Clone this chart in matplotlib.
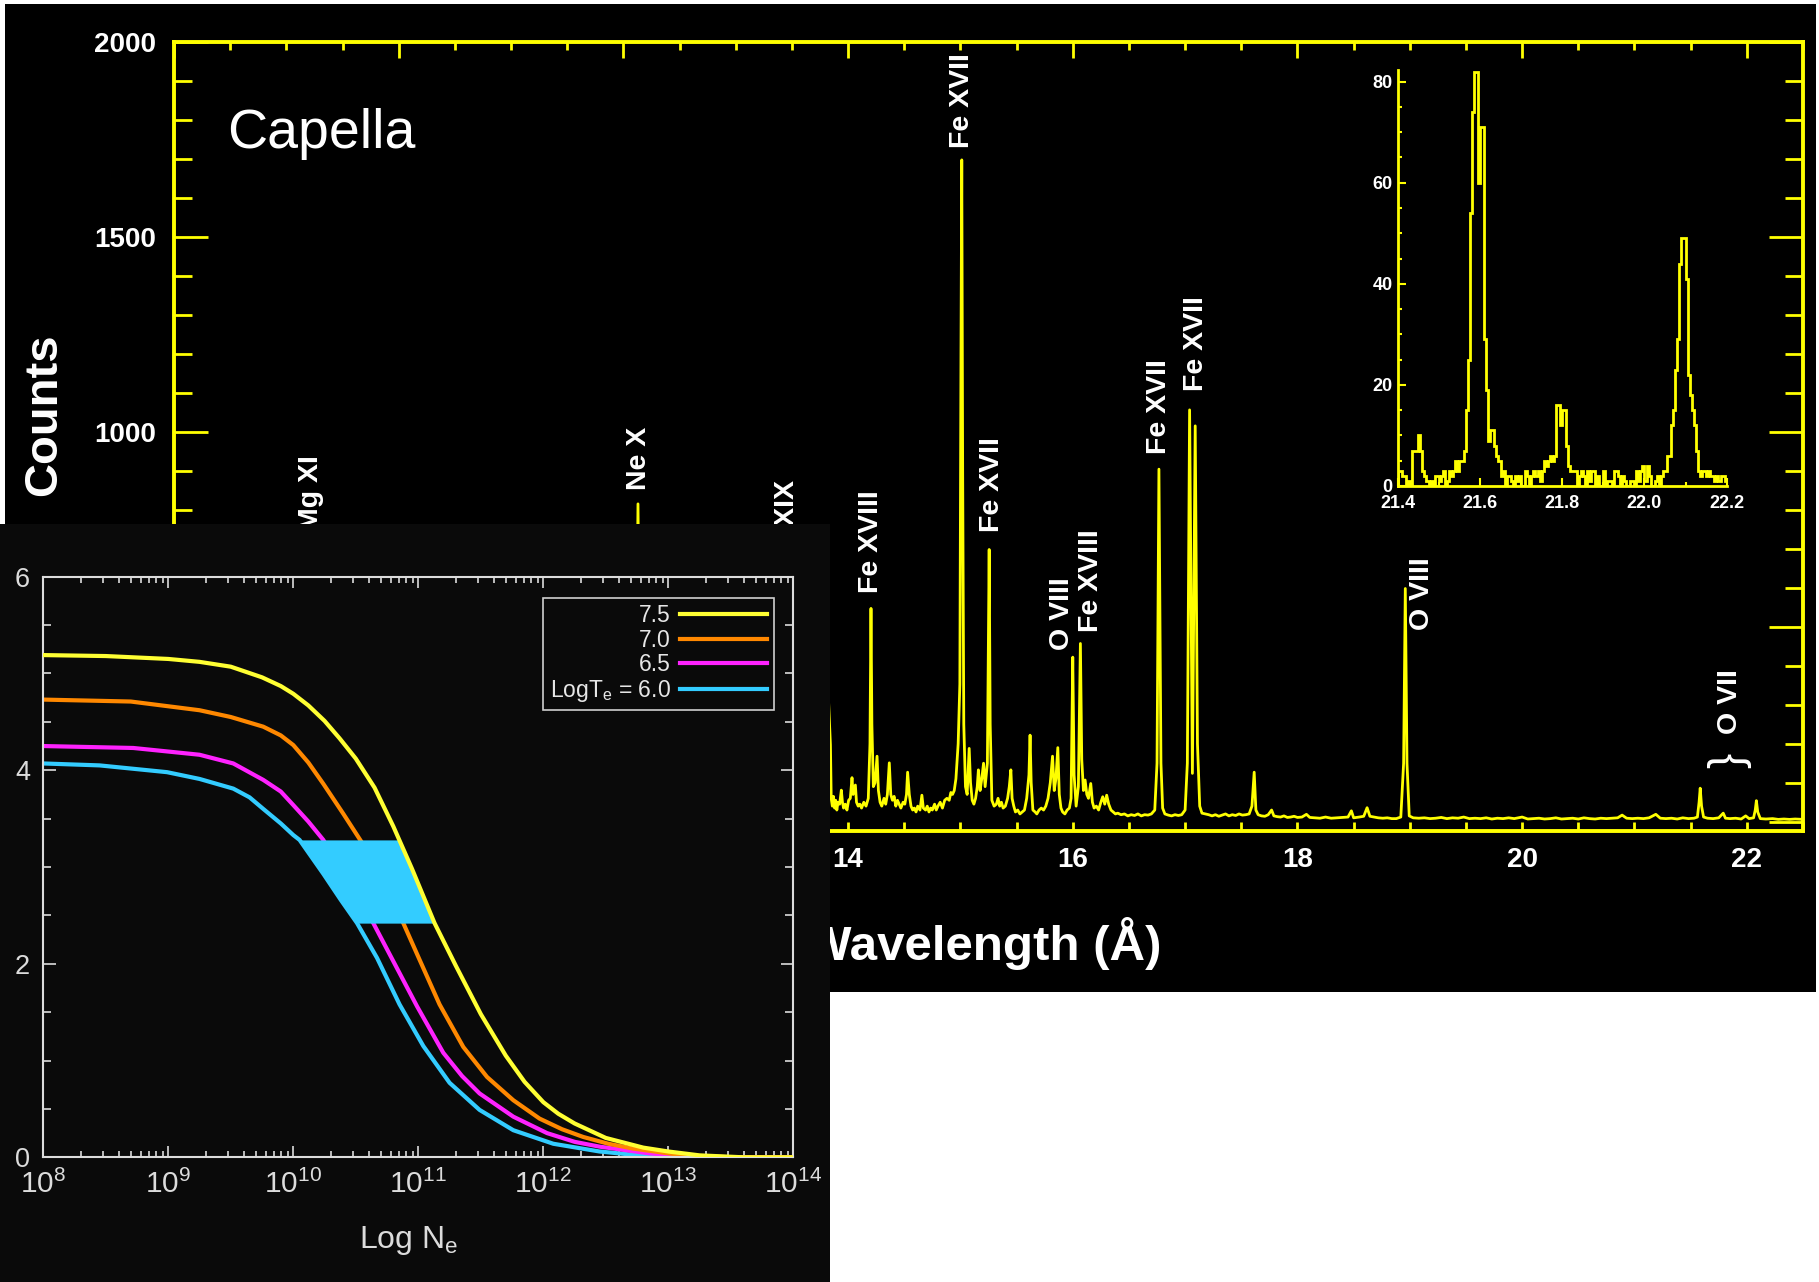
import numpy as np
import matplotlib
matplotlib.use('Agg')
import matplotlib.pyplot as plt
from matplotlib.ticker import MultipleLocator, LogLocator, FormatStrFormatter

plt.rcParams['font.family'] = ['Liberation Sans', 'DejaVu Sans']
plt.rcParams['mathtext.fontset'] = 'custom'
plt.rcParams['mathtext.rm'] = 'Liberation Sans'
plt.rcParams['mathtext.it'] = 'Liberation Sans:italic'
plt.rcParams['mathtext.bf'] = 'Liberation Sans:bold'

# ---- main Capella spectrum (wavelength in A, counts) ----
# part hidden behind the density panel
wl_h = [8.00, 8.30, 8.42, 8.50, 8.80, 9.00, 9.17, 9.25, 9.50, 9.70,
        10.00, 10.24, 10.40, 10.60, 10.80, 11.00, 11.17, 11.25, 11.50, 11.54,
        11.60, 11.80, 12.11, 12.13, 12.15, 12.28, 12.35, 12.50, 12.80, 13.00,
        13.20, 13.45, 13.52, 13.60, 13.70, 13.82]
ct_h = [60, 70, 200, 70, 80, 90, 600, 100, 80, 90,
        80, 300, 90, 110, 100, 150, 250, 120, 140, 300,
        120, 130, 150, 815, 200, 400, 150, 120, 130, 120,
        120, 650, 500, 130, 150, 350]

wl_a = [13.843, 13.850, 13.860, 13.870, 13.880, 13.890, 13.900, 13.910, 13.925, 13.940,
        13.950, 13.960, 13.975, 13.990, 14.005, 14.020, 14.035, 14.045, 14.065, 14.075,
        14.090, 14.105, 14.120, 14.140, 14.160, 14.180, 14.195, 14.204, 14.212, 14.225,
        14.240, 14.258, 14.270, 14.285, 14.300, 14.320, 14.335, 14.350, 14.367, 14.380,
        14.395, 14.410, 14.425, 14.440, 14.455, 14.470, 14.490, 14.505, 14.520, 14.530,
        14.545, 14.560, 14.575, 14.590, 14.605, 14.620, 14.640, 14.657, 14.670, 14.690,
        14.705, 14.720, 14.735, 14.750, 14.770, 14.785, 14.800, 14.820, 14.840, 14.860,
        14.880, 14.900, 14.915, 14.930, 14.945, 14.960, 14.980, 14.995]
ct_a = [197, 60, 40, 65, 35, 55, 30, 50, 45, 81,
        50, 35, 45, 30, 55, 60, 113, 70, 94, 50,
        40, 45, 35, 50, 40, 60, 200, 547, 250, 90,
        100, 168, 80, 50, 40, 60, 45, 70, 151, 70,
        55, 65, 40, 55, 45, 35, 50, 45, 70, 127,
        70, 40, 30, 35, 25, 40, 30, 68, 35, 30,
        40, 25, 35, 30, 45, 30, 40, 50, 35, 55,
        60, 55, 75, 70, 80, 110, 200, 353]

wl_b = [15.005, 15.012, 15.020, 15.030, 15.045, 15.060, 15.078, 15.090, 15.105, 15.120,
        15.135, 15.150, 15.160, 15.175, 15.190, 15.206, 15.220, 15.240, 15.256, 15.265,
        15.280, 15.300, 15.320, 15.335, 15.350, 15.365, 15.380, 15.400, 15.420, 15.435,
        15.449, 15.460, 15.475, 15.490, 15.510, 15.530, 15.550, 15.570, 15.590, 15.610,
        15.620, 15.630, 15.645, 15.665, 15.680, 15.700, 15.720, 15.740, 15.760, 15.780,
        15.800, 15.820, 15.835, 15.850, 15.867, 15.880, 15.895, 15.910, 15.930, 15.950,
        15.970, 15.985, 16.000, 16.012, 16.030, 16.050, 16.068, 16.080, 16.095, 16.110,
        16.125, 16.140, 16.160, 16.175, 16.190, 16.210, 16.230, 16.250, 16.267, 16.285,
        16.302, 16.320, 16.340, 16.360, 16.380, 16.400]
ct_b = [1200, 1697, 900, 250, 90, 70, 188, 100, 55, 45,
        60, 90, 133, 80, 110, 150, 90, 150, 698, 250,
        55, 40, 45, 60, 40, 50, 35, 40, 60, 90,
        133, 60, 40, 25, 30, 20, 25, 30, 60, 120,
        222, 100, 30, 25, 20, 30, 35, 30, 40, 60,
        100, 168, 80, 110, 190, 70, 35, 25, 20, 30,
        35, 60, 422, 120, 40, 90, 457, 160, 80, 107,
        70, 60, 98, 50, 35, 40, 30, 50, 64, 45,
        68, 45, 30, 25, 20, 22]

wl_c = [16.430, 16.460, 16.490, 16.520, 16.550, 16.580, 16.610, 16.640, 16.670, 16.700,
        16.730, 16.750, 16.767, 16.785, 16.800, 16.820, 16.850, 16.880, 16.910, 16.940,
        16.970, 17.000, 17.020, 17.040, 17.065, 17.090, 17.110, 17.130, 17.150, 17.180,
        17.210, 17.240, 17.270, 17.300, 17.330, 17.360, 17.390, 17.420, 17.450, 17.480,
        17.510, 17.540, 17.570, 17.595, 17.615, 17.630, 17.650, 17.680, 17.710, 17.740,
        17.770, 17.790, 17.820, 17.850, 17.880, 17.910, 17.940, 17.970]
ct_c = [18, 20, 15, 18, 16, 20, 15, 18, 17, 20,
        30, 150, 904, 150, 35, 20, 17, 15, 18, 16,
        18, 30, 150, 1056, 124, 1015, 200, 40, 22, 20,
        18, 15, 18, 14, 17, 20, 15, 18, 16, 20,
        17, 18, 20, 40, 127, 30, 18, 15, 14, 18,
        30, 15, 13, 12, 15, 11, 12, 14]

wl_d = [18.000, 18.040, 18.080, 18.110, 18.150, 18.200, 18.250, 18.300, 18.350, 18.400,
        18.450, 18.480, 18.500, 18.550, 18.590, 18.620, 18.645, 18.680, 18.720, 18.760,
        18.800, 18.840, 18.880, 18.920, 18.945, 18.960, 18.975, 18.995, 19.030, 19.080,
        19.130, 19.180, 19.230, 19.280, 19.330, 19.380, 19.430, 19.480, 19.530, 19.580,
        19.630, 19.680, 19.730, 19.780, 19.830, 19.880, 19.930, 20.000, 20.050, 20.100,
        20.150, 20.200, 20.250, 20.300, 20.350, 20.400, 20.450, 20.500, 20.550, 20.600,
        20.650, 20.700, 20.750, 20.800, 20.850, 20.890, 20.930, 20.980, 21.030, 21.080,
        21.130, 21.190, 21.230, 21.280, 21.330, 21.380, 21.430, 21.480, 21.530, 21.560,
        21.575, 21.585, 21.597, 21.615, 21.650, 21.700, 21.750, 21.790, 21.810, 21.850,
        21.900, 21.950, 21.990, 22.020, 22.060, 22.075, 22.085, 22.097, 22.120, 22.170,
        22.230, 22.280, 22.330, 22.380, 22.430, 22.500]
ct_d = [11, 12, 19, 11, 10, 9, 12, 9, 10, 11,
        12, 28, 10, 12, 14, 36, 14, 12, 10, 9,
        10, 8, 8, 12, 150, 598, 150, 15, 10, 9,
        10, 8, 9, 11, 8, 10, 9, 12, 8, 9,
        8, 10, 7, 9, 8, 10, 8, 12, 7, 8,
        9, 7, 8, 10, 7, 8, 9, 7, 10, 8,
        7, 9, 8, 9, 10, 17, 9, 8, 9, 8,
        10, 19, 9, 8, 9, 7, 10, 8, 9, 12,
        50, 86, 40, 12, 9, 8, 10, 22, 9, 8,
        9, 7, 15, 8, 10, 30, 54, 25, 8, 7,
        8, 6, 7, 6, 7, 6]

# line identifications (label centre wavelength, counts at label foot)
line_labels = ['Mg XI', 'Ne X', 'Fe XIX', 'Fe XVIII', 'Fe XVII', 'Fe XVII',
               'O VIII', 'Fe XVIII', 'Fe XVII', 'Fe XVII', 'O VIII', 'O VII']
label_wl = [9.22, 12.14, 13.46, 14.204, 15.012, 15.28, 15.90, 16.163, 16.767, 17.10, 19.11, 21.85]
label_ct = [745, 850, 653, 586, 1727, 744, 440, 487, 943, 1104, 492, 225]

# ---- zoomed O VII triplet, 0.005 A bins from 21.4 to 22.2 ----
zoom_counts = ([3, 3, 2, 2, 0, 1, 0] +
               [7, 7, 7, 10, 7, 3] +
               [2, 1, 0] +
               [1, 0, 2, 2, 1, 2, 3, 0, 1, 3, 2, 3] +
               [5, 3, 5, 5, 7, 15, 25, 54, 74, 82, 82, 60, 71, 71, 29, 19, 9, 11, 11, 8] +
               [6, 5, 2, 3, 0, 2, 2, 1] +
               [0, 2, 1, 2, 0, 0, 3, 2, 0, 2, 3, 2, 3, 1] +
               [3, 5, 4, 5, 6, 5, 6] +
               [16, 16, 12, 15, 15, 8, 4, 3] +
               [3, 3, 0, 2, 3, 2, 0, 3, 1, 3, 3, 0, 2, 0, 0, 3, 0, 1, 1, 0, 3,
                3, 2, 0, 2, 1, 0, 0, 1, 1, 0, 3, 1, 3, 4, 1, 4, 2, 0, 0, 1, 2] +
               [0, 2, 3, 3, 6, 6, 12, 15, 23, 29, 44, 49, 49, 41, 22, 18, 15, 12, 7, 3,
                2, 3, 3, 2, 3, 2, 2, 1, 2, 1, 2, 2, 1])
zoom_lo, zoom_hi = 21.4, 22.2

# ---- density diagnostic curves: log Ne vs ratio, per log Te ----
te_labels = ['7.5', '7.0', '6.5', r'LogT$_\mathregular{e}$ = 6.0']
logn_75 = [8.0, 8.5, 9.0, 9.25, 9.5, 9.75, 9.9, 10.0, 10.12, 10.25, 10.37, 10.5, 10.65,
           10.8, 10.95, 11.13, 11.3, 11.5, 11.7, 11.85, 12.0, 12.12, 12.25, 12.5, 12.8,
           13.0, 13.25, 13.6, 14.0]
val_75 = [5.19, 5.18, 5.15, 5.12, 5.07, 4.96, 4.87, 4.79, 4.67, 4.51, 4.33, 4.12, 3.82,
          3.42, 2.98, 2.42, 1.98, 1.48, 1.05, 0.78, 0.57, 0.45, 0.35, 0.20, 0.10,
          0.06, 0.02, 0.0, 0.0]
logn_70 = [8.0, 8.7, 9.25, 9.5, 9.76, 9.9, 10.0, 10.12, 10.24, 10.4, 10.55, 10.72, 10.88,
           10.99, 11.17, 11.36, 11.55, 11.76, 11.97, 12.15, 12.32, 12.52, 12.72, 13.12,
           13.5, 14.0]
val_70 = [4.73, 4.71, 4.62, 4.55, 4.45, 4.36, 4.26, 4.08, 3.86, 3.55, 3.25, 2.85, 2.42,
          2.10, 1.58, 1.14, 0.83, 0.59, 0.40, 0.29, 0.21, 0.14, 0.09, 0.02,
          0.0, 0.0]
logn_65 = [8.0, 8.72, 9.25, 9.52, 9.76, 9.9, 10.0, 10.12, 10.24, 10.44, 10.64, 10.77,
           10.99, 11.2, 11.35, 11.49, 11.76, 12.03, 12.25, 12.45, 12.85, 13.25, 14.0]
val_65 = [4.25, 4.23, 4.16, 4.07, 3.90, 3.78, 3.64, 3.47, 3.28, 2.85, 2.42, 2.10,
          1.56, 1.08, 0.84, 0.66, 0.42, 0.25, 0.16, 0.11, 0.04, 0.0, 0.0]
logn_60 = [8.0, 8.45, 8.99, 9.25, 9.52, 9.65, 9.76, 9.9, 10.0, 10.05, 10.24, 10.38,
           10.51, 10.67, 10.85, 11.04, 11.25, 11.49, 11.76, 12.08, 12.45, 12.85, 13.2, 14.0]
val_60 = [4.07, 4.05, 3.98, 3.91, 3.81, 3.72, 3.60, 3.45, 3.33, 3.28, 2.93, 2.66,
          2.42, 2.06, 1.58, 1.15, 0.77, 0.49, 0.28, 0.14, 0.06, 0.01, 0.0, 0.0]
band_lo, band_hi = 2.42, 3.28

YEL = '#ffff00'
PANEL = '#0a0a0a'
LG = '#dcdcdc'
C75, C70, C65, C60 = '#ffff33', '#ff8800', '#ff22ff', '#33ccff'

W, H = 1819, 1282
def box(l, t, r, b):
    return [l / W, 1 - b / H, (r - l) / W, (b - t) / H]

fig = plt.figure(figsize=(W / 100, H / 100), dpi=100, facecolor='white')

bg = fig.add_axes(box(5, 4, 1816, 992))
bg.set_facecolor('black')
bg.set_xticks([]); bg.set_yticks([])
for s in bg.spines.values():
    s.set_visible(False)

# main spectrum
ax = fig.add_axes(box(174, 41.7, 1803, 830.7))
ax.set_facecolor('black')
wl = wl_h + wl_a + wl_b + wl_c + wl_d
ct = ct_h + ct_a + ct_b + ct_c + ct_d
ax.plot(wl, ct, color=YEL, lw=2.0)
ax.set_xlim(8, 22.5)
ax.set_ylim(-23, 2000)
for s in ax.spines.values():
    s.set_color(YEL); s.set_linewidth(2.8)
ax.xaxis.set_major_locator(MultipleLocator(2))
ax.xaxis.set_minor_locator(MultipleLocator(0.5))
ax.yaxis.set_major_locator(MultipleLocator(500))
ax.yaxis.set_minor_locator(MultipleLocator(100))
ax.tick_params(axis='x', which='both', direction='in', length=6.5, width=2, color=YEL,
               labelcolor='white', labelsize=20, pad=11.5, top=False)
ax.tick_params(axis='y', which='major', direction='in', length=24.5, width=2, color=YEL,
               labelcolor='white', labelsize=20, pad=13, right=True)
ax.tick_params(axis='y', which='minor', direction='in', length=13, width=2, color=YEL, right=True)
plt.setp(ax.get_xticklabels() + ax.get_yticklabels(), fontweight='bold')

top = ax.twiny()
top.set_xlim(8, 22.5)
top.xaxis.set_major_locator(MultipleLocator(2))
top.xaxis.set_minor_locator(MultipleLocator(0.5))
top.tick_params(axis='x', which='major', direction='in', length=11.5, width=2, color=YEL, labeltop=False)
top.tick_params(axis='x', which='minor', direction='in', length=6, width=2, color=YEL)
for s in top.spines.values():
    s.set_visible(False)

for txt, x, y in zip(line_labels, label_wl, label_ct):
    ax.text(x, y, txt, rotation=90, ha='center', va='bottom', color='white',
            fontsize=20.5, fontweight='bold')
ax.text(21.847, 158, '}', rotation=90, ha='center', va='center', color='white', fontsize=33)

# titles drawn inside the main axes so the pasted panel covers them
ftr = fig.transFigure
ax.text(227 / W, 1 - 148 / H, 'Capella', transform=ftr, color='white', fontsize=40,
        ha='left', va='baseline')
ax.text(44 / W, 1 - 415 / H, 'Counts', transform=ftr, color='white', fontsize=34,
        fontweight='bold', rotation=90, ha='center', va='center')
ax.text(983 / W, 1 - 960 / H, 'Wavelength (Å)', transform=ftr, color='white', fontsize=35.5,
        fontweight='bold', ha='center', va='baseline')

# O VII zoom inset
axi = fig.add_axes(box(1397.7, 70, 1726.7, 486))
axi.patch.set_visible(False)
edges = np.linspace(zoom_lo, zoom_hi, len(zoom_counts) + 1)
axi.stairs(zoom_counts, edges, color=YEL, lw=2)
axi.set_xlim(zoom_lo, zoom_hi)
axi.set_ylim(0, 82.3)
axi.spines['top'].set_visible(False)
axi.spines['right'].set_visible(False)
for k in ('left', 'bottom'):
    axi.spines[k].set_color(YEL); axi.spines[k].set_linewidth(2)
axi.xaxis.set_major_locator(MultipleLocator(0.2))
axi.xaxis.set_minor_locator(MultipleLocator(0.1))
axi.xaxis.set_major_formatter(FormatStrFormatter('%.1f'))
axi.yaxis.set_major_locator(MultipleLocator(20))
axi.yaxis.set_minor_locator(MultipleLocator(5))
axi.tick_params(which='major', direction='in', length=5.5, width=1.5, color=YEL,
                labelcolor='white', labelsize=13)
axi.tick_params(which='minor', direction='in', length=3, width=1.5, color=YEL)
axi.tick_params(axis='y', pad=3.6)
axi.tick_params(axis='x', pad=6.5)
plt.setp(axi.get_xticklabels() + axi.get_yticklabels(), fontweight='bold')

# density panel pasted over the lower left
pan = fig.add_axes(box(0, 524, 830, 1282))
pan.set_facecolor(PANEL)
pan.set_xticks([]); pan.set_yticks([])
for s in pan.spines.values():
    s.set_visible(False)

axd = fig.add_axes(box(43.3, 576.7, 793.3, 1157.3))
axd.set_facecolor(PANEL)
axd.set_xscale('log')
h60, = axd.plot(10 ** np.array(logn_60), val_60, color=C60, lw=3, zorder=2)
h65, = axd.plot(10 ** np.array(logn_65), val_65, color=C65, lw=3, zorder=2)
h70, = axd.plot(10 ** np.array(logn_70), val_70, color=C70, lw=3, zorder=2)
yb = np.linspace(band_lo, band_hi, 40)
xl = 10 ** np.interp(yb, val_60[::-1], logn_60[::-1])
xr = 10 ** np.interp(yb, val_75[::-1], logn_75[::-1])
axd.fill_betweenx(yb, xl, xr, color=C60, lw=0, zorder=3)
h75, = axd.plot(10 ** np.array(logn_75), val_75, color=C75, lw=3, zorder=4)
axd.set_xlim(1e8, 1e14)
axd.set_ylim(0, 6)
for s in axd.spines.values():
    s.set_color(LG); s.set_linewidth(1.5)
axd.xaxis.set_major_locator(LogLocator(base=10, numticks=20))
axd.xaxis.set_minor_locator(LogLocator(base=10, subs=np.arange(2, 10), numticks=20))
axd.yaxis.set_major_locator(MultipleLocator(2))
axd.yaxis.set_minor_locator(MultipleLocator(0.5))
axd.tick_params(which='both', direction='in', top=True, right=True, color=LG, width=1.2,
                labelcolor=LG)
axd.tick_params(axis='x', which='major', length=8, pad=9, labelsize=21.5)
axd.tick_params(axis='x', which='minor', length=4.5)
axd.tick_params(axis='y', which='major', length=9, pad=9.5, labelsize=19.5)
axd.tick_params(axis='y', which='minor', length=6)

leg = axd.legend([h75, h70, h65, h60], te_labels, loc='upper right',
                 bbox_to_anchor=(0.974, 0.964), borderaxespad=0, markerfirst=False,
                 fontsize=16.5, frameon=True, fancybox=False, edgecolor='#cfcfcf',
                 facecolor=PANEL, framealpha=1, labelcolor='#e6e6e6', handlelength=3.8,
                 handletextpad=0.4, labelspacing=0.06, borderpad=0.3)
leg.get_frame().set_linewidth(1.2)

fig.text(408.5 / W, 1 - 1248.3 / H, r'Log N$_\mathregular{e}$', color=LG, fontsize=23,
         ha='center', va='baseline')

fig.savefig('out.png', dpi=100, facecolor='white')
